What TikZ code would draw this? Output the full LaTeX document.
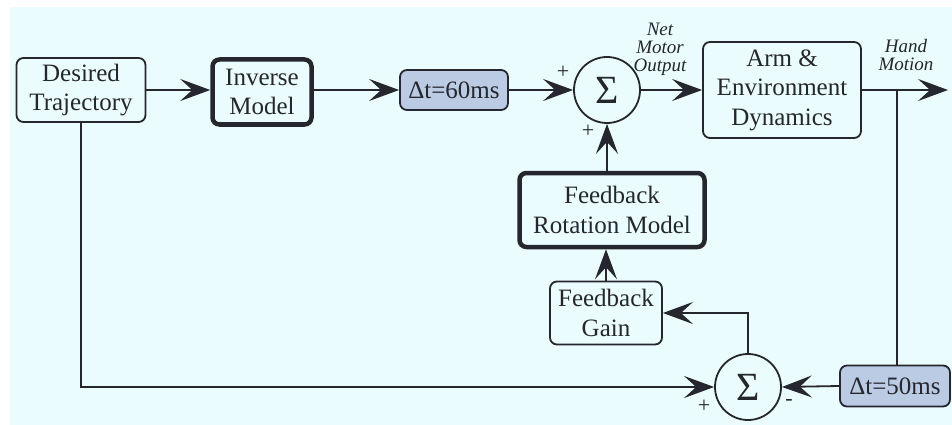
\documentclass[tikz,border=0pt]{standalone}
\usepackage{fontspec}
\setmainfont{Liberation Serif}
\usetikzlibrary{arrows.meta}
\definecolor{bgc}{HTML}{EAFCFE}
\definecolor{ink}{HTML}{25262F}
\definecolor{delayfill}{HTML}{BACBE3}
\tikzset{
  blk/.style={draw=ink, line width=1.8pt, rounded corners=7pt, fill=bgc,
    align=center, inner sep=0pt, text=ink,
    font=\fontsize{25}{29.5}\selectfont},
  heavy/.style={blk, line width=4.5pt},
  delay/.style={blk, fill=delayfill},
  sumnode/.style={draw=ink, line width=1.8pt, circle, fill=bgc, minimum size=66pt,
    inner sep=0pt, text=ink, font=\fontsize{40}{40}\selectfont},
  wire/.style={draw=ink, line width=1.8pt},
  flow/.style={wire, -{Stealth[length=30pt, width=22pt, inset=12pt]}},
  sig/.style={text=ink, align=center, font=\fontsize{19}{18}\selectfont\itshape},
  sgn/.style={text=ink, font=\fontsize{22}{22}\selectfont}
}
\begin{document}
\begin{tikzpicture}[x=1pt, y=-1pt]
  % canvas
  \useasboundingbox (0,0) rectangle (952,425);
  \fill[white] (0,0) rectangle (952,425);
  \fill[bgc] (10,7) rectangle (952,425);

  % blocks
  \node[blk, minimum width=129pt, minimum height=64pt] (dt) at (81,90) {Desired\\Trajectory};
  \node[heavy, minimum width=99pt, minimum height=65pt] (inv) at (262,92) {Inverse\\Model};
  \node[delay, minimum width=108pt, minimum height=40pt] (d60) at (454,90) {Δt=60ms};
  \node[sumnode] (s1) at (607,90) {Σ};
  \node[blk, minimum width=158pt, minimum height=96pt] (arm) at (782,90) {Arm \&\\Environment\\Dynamics};
  \node[heavy, minimum width=185pt, minimum height=74pt] (frm) at (612,210) {Feedback\\Rotation Model};
  \node[blk, minimum width=112pt, minimum height=63pt] (fg) at (606,313) {Feedback\\Gain};
  \node[sumnode] (s2) at (748,387) {Σ};
  \node[delay, minimum width=110pt, minimum height=41pt] (d50) at (895,386) {Δt=50ms};

  % signal labels
  \node[sig] (nmo) at (660,49) {Net\\Motor\\Output};
  \node[sig] (hml) at (906,55) {Hand\\Motion};
  \node[sgn] (p1) at (563,72) {+};
  \node[sgn] (p2) at (588,131) {+};
  \node[sgn] (p3) at (704,406) {+};
  \node[sgn] (m1) at (789,402) {-};

  % forward path
  \coordinate (hm) at (948,90);
  \coordinate (br) at (897,90);
  \draw[flow] (dt.east) -- (inv.west |- dt.east);
  \draw[flow] (inv.east |- d60.west) -- (d60.west);
  \draw[flow] (d60.east) -- (s1.west);
  \draw[flow] (s1.east) -- (arm.west);
  \draw[flow] (arm.east) -- (hm);

  % feedback path
  \draw[wire] (br) -- (br |- d50.north);
  \draw[flow] (d50.west) -- (s2.east);
  \draw[flow] (dt.south) |- (s2.west);
  \draw[flow] (s2.north) |- (fg.east);
  \draw[flow] (fg.north) -- (fg.north |- frm.south);
  \draw[flow] (s1.south |- frm.north) -- (s1.south);
\end{tikzpicture}
\end{document}
